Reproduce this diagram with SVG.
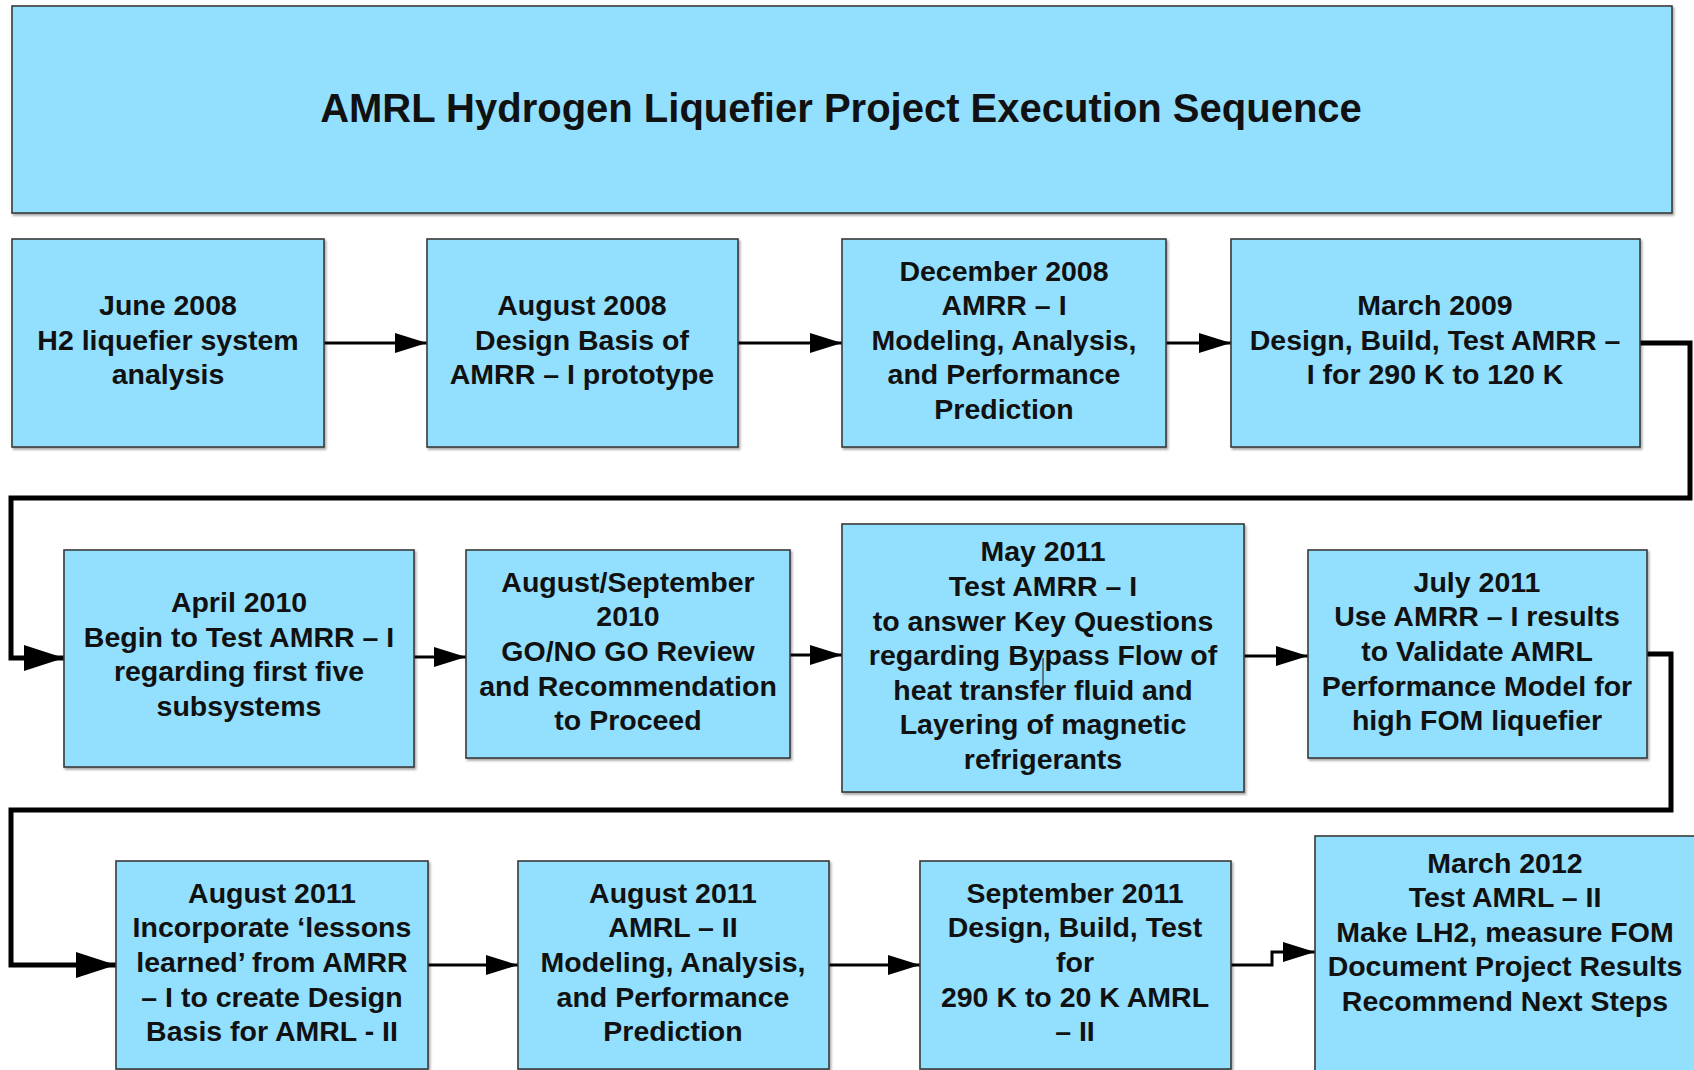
<svg xmlns="http://www.w3.org/2000/svg" width="1694" height="1070" viewBox="0 0 1694 1070">
<style>
.box{fill:#93DFFE;stroke:#3a3a3a;stroke-width:1.6;filter:url(#sh)}
.t{font-family:"Liberation Sans",Arial,sans-serif;font-weight:bold;font-size:28.5px;fill:#111;text-anchor:middle}
.title{font-family:"Liberation Sans",Arial,sans-serif;font-weight:bold;font-size:40px;fill:#111;text-anchor:middle}
.thin{fill:none;stroke:#000;stroke-width:3;marker-end:url(#ah)}
.thick{fill:none;stroke:#000;stroke-width:5;stroke-linejoin:miter;marker-end:url(#ahb)}
</style>
<defs>
<filter id="sh" x="-5%" y="-5%" width="110%" height="110%">
<feDropShadow dx="1.5" dy="2" stdDeviation="1" flood-color="#000" flood-opacity="0.35"/>
</filter>
<marker id="ah" markerUnits="userSpaceOnUse" markerWidth="34" markerHeight="22" refX="32" refY="10" orient="auto">
<path d="M0,0 L32,10 L0,20 Z" fill="#000"/>
</marker>
<marker id="ahb" markerUnits="userSpaceOnUse" markerWidth="42" markerHeight="28" refX="40" refY="13" orient="auto">
<path d="M0,0 L40,13 L0,26 Z" fill="#000"/>
</marker>
</defs>
<rect width="1694" height="1070" fill="#fff"/>

<g id="title">
<rect class="box" x="12" y="6" width="1660" height="207"/>
<text class="title" x="841" y="122">AMRL Hydrogen Liquefier Project Execution Sequence</text>
</g>

<g id="connectors">
<path class="thin" d="M324,343 H427"/>
<path class="thin" d="M738,343 H842"/>
<path class="thin" d="M1166,343 H1231"/>
<path class="thick" d="M1640,343 H1690 V498 H11 V658 H64"/>
<path class="thin" d="M414,657 H466"/>
<path class="thin" d="M790,655 H842"/>
<path class="thin" d="M1244,656 H1308"/>
<path class="thick" d="M1647,654 H1671 V810 H11 V965 H116"/>
<path class="thin" d="M428,965 H518"/>
<path class="thin" d="M829,965 H920"/>
<path class="thin" d="M1231,965 H1272 V952 H1315"/>
</g>

<g id="n1">
<rect class="box" x="12" y="239" width="312" height="208"/>
<text class="t" x="168" y="315">June 2008</text>
<text class="t" x="168" y="350">H2 liquefier system</text>
<text class="t" x="168" y="384">analysis</text>
</g>
<g id="n2">
<rect class="box" x="427" y="239" width="311" height="208"/>
<text class="t" x="582" y="315">August 2008</text>
<text class="t" x="582" y="350">Design Basis of</text>
<text class="t" x="582" y="384">AMRR – I prototype</text>
</g>
<g id="n3">
<rect class="box" x="842" y="239" width="324" height="208"/>
<text class="t" x="1004" y="281">December 2008</text>
<text class="t" x="1004" y="315">AMRR – I</text>
<text class="t" x="1004" y="350">Modeling, Analysis,</text>
<text class="t" x="1004" y="384">and Performance</text>
<text class="t" x="1004" y="419">Prediction</text>
</g>
<g id="n4">
<rect class="box" x="1231" y="239" width="409" height="208"/>
<text class="t" x="1435" y="315">March 2009</text>
<text class="t" x="1435" y="350">Design, Build, Test AMRR –</text>
<text class="t" x="1435" y="384">I for 290 K to 120 K</text>
</g>

<g id="n5">
<rect class="box" x="64" y="550" width="350" height="217"/>
<text class="t" x="239" y="612">April 2010</text>
<text class="t" x="239" y="647">Begin to Test AMRR – I</text>
<text class="t" x="239" y="681">regarding first five</text>
<text class="t" x="239" y="716">subsystems</text>
</g>
<g id="n6">
<rect class="box" x="466" y="550" width="324" height="208"/>
<text class="t" x="628" y="592">August/September</text>
<text class="t" x="628" y="626">2010</text>
<text class="t" x="628" y="661">GO/NO GO Review</text>
<text class="t" x="628" y="696">and Recommendation</text>
<text class="t" x="628" y="730">to Proceed</text>
</g>
<g id="n7">
<rect class="box" x="842" y="524" width="402" height="268"/>
<text class="t" x="1043" y="561">May 2011</text>
<text class="t" x="1043" y="596">Test AMRR – I</text>
<text class="t" x="1043" y="631">to answer Key Questions</text>
<text class="t" x="1043" y="665">regarding Bypass Flow of</text>
<text class="t" x="1043" y="700">heat transfer fluid and</text>
<text class="t" x="1043" y="734">Layering of magnetic</text>
<text class="t" x="1043" y="769">refrigerants</text>
<line x1="1043" y1="658" x2="1043" y2="695" stroke="#333" stroke-width="1.2"/>
</g>
<g id="n8">
<rect class="box" x="1308" y="550" width="339" height="208"/>
<text class="t" x="1477" y="592">July 2011</text>
<text class="t" x="1477" y="626">Use AMRR – I results</text>
<text class="t" x="1477" y="661">to Validate AMRL</text>
<text class="t" x="1477" y="696">Performance Model for</text>
<text class="t" x="1477" y="730">high FOM liquefier</text>
</g>

<g id="n9">
<rect class="box" x="116" y="861" width="312" height="208"/>
<text class="t" x="272" y="903">August 2011</text>
<text class="t" x="272" y="937">Incorporate ‘lessons</text>
<text class="t" x="272" y="972">learned’ from AMRR</text>
<text class="t" x="272" y="1007">– I to create Design</text>
<text class="t" x="272" y="1041">Basis for AMRL - II</text>
</g>
<g id="n10">
<rect class="box" x="518" y="861" width="311" height="208"/>
<text class="t" x="673" y="903">August 2011</text>
<text class="t" x="673" y="937">AMRL – II</text>
<text class="t" x="673" y="972">Modeling, Analysis,</text>
<text class="t" x="673" y="1007">and Performance</text>
<text class="t" x="673" y="1041">Prediction</text>
</g>
<g id="n11">
<rect class="box" x="920" y="861" width="311" height="208"/>
<text class="t" x="1075" y="903">September 2011</text>
<text class="t" x="1075" y="937">Design, Build, Test</text>
<text class="t" x="1075" y="972">for</text>
<text class="t" x="1075" y="1007">290 K to 20 K AMRL</text>
<text class="t" x="1075" y="1041">– II</text>
</g>
<g id="n12">
<rect class="box" x="1315" y="836" width="382" height="250"/>
<text class="t" x="1505" y="873">March 2012</text>
<text class="t" x="1505" y="907">Test AMRL – II</text>
<text class="t" x="1505" y="942">Make LH2, measure FOM</text>
<text class="t" x="1505" y="976">Document Project Results</text>
<text class="t" x="1505" y="1011">Recommend Next Steps</text>
</g>
</svg>
